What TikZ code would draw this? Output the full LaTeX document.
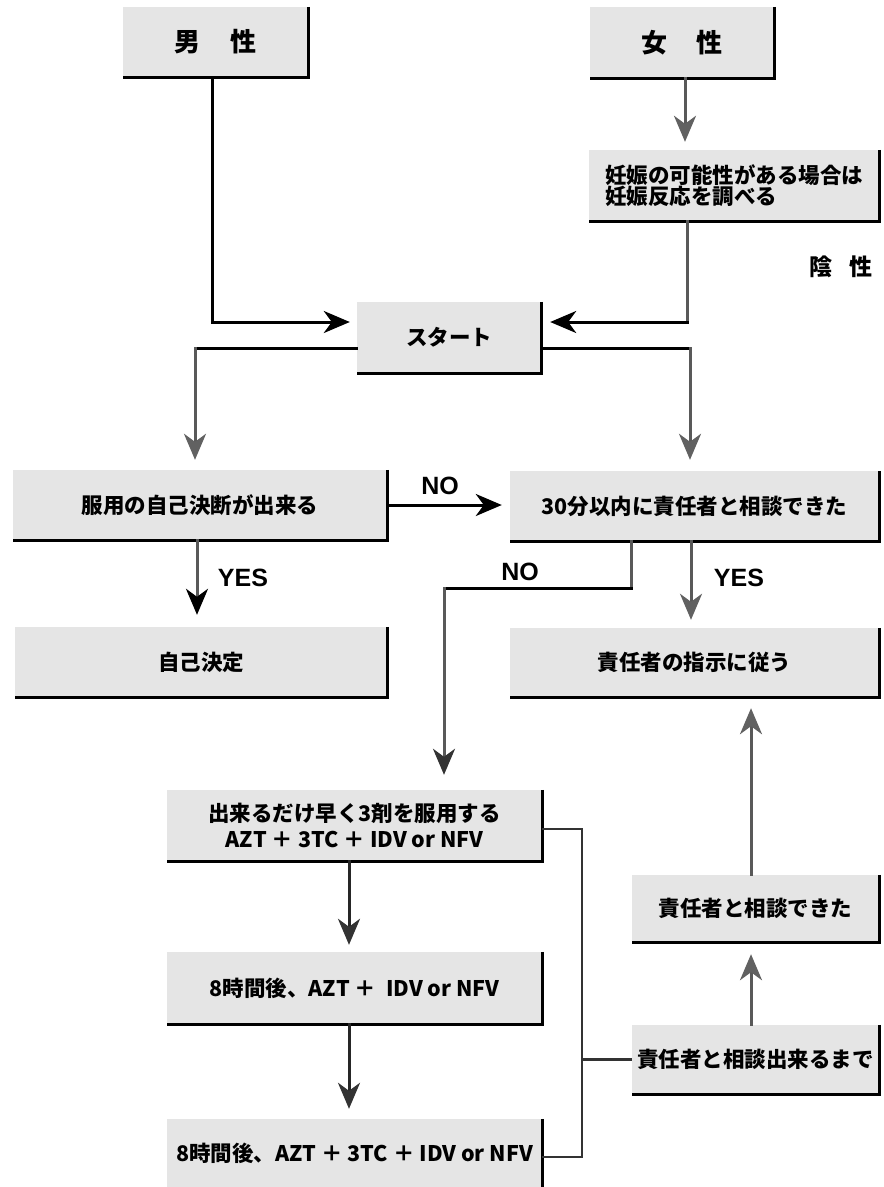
\documentclass[tikz,border=0pt]{standalone}
\usepackage{fontspec}
\setmainfont{Noto Sans CJK JP}
\newfontfamily\lat{Liberation Sans}
\usetikzlibrary{arrows.meta,calc}
\begin{document}
\begin{tikzpicture}[x=1pt,y=-1pt,
  box/.style={fill=black!10, inner sep=0pt, align=center,
    font=\bfseries\fontsize{21.5}{26}\selectfont},
  solidln/.style={line width=3pt, black, line cap=rect},
  dotln/.style={line width=3pt, black!65, line cap=rect},
  darkln/.style={line width=3pt, black!85, line cap=rect},
  bracketln/.style={line width=2.2pt, black!80},
  tipb/.style={-{Stealth[length=26pt,width=22pt,inset=8pt,color=black]}},
  tipg/.style={-{Stealth[length=26pt,width=22pt,inset=8pt,color=black!62]}},
  tipd/.style={-{Stealth[length=26pt,width=22pt,inset=8pt,color=black!80]}},
  lbl/.style={font=\lat\bfseries\fontsize{25}{30}\selectfont, inner sep=0pt},
  border/.style={line width=3pt, black}
]
\useasboundingbox (0,0) rectangle (884,1187);

% boxes
\node[box, minimum width=185pt, minimum height=70pt] (male) at (215.5,42)
  {\fontsize{26}{30}\selectfont 男\hspace{30pt}性};
\node[box, minimum width=184pt, minimum height=71pt] (female) at (682,42.5)
  {\fontsize{26}{30}\selectfont 女\hspace{30pt}性};
\node[box, minimum width=290pt, minimum height=71pt, align=left,
  font=\bfseries\fontsize{21.5}{21.5}\selectfont] (preg) at (734,185.5)
  {妊娠の可能性がある場合は\\妊娠反応を調べる};
\node[box, minimum width=184pt, minimum height=71pt] (start) at (449,337.5) {スタート};
\node[box, minimum width=374pt, minimum height=70pt] (decide) at (200,505) {服用の自己決断が出来る};
\node[box, minimum width=369pt, minimum height=70pt] (consult30) at (694.5,506) {30分以内に責任者と相談できた};
\node[box, minimum width=372pt, minimum height=70pt] (self) at (201,662) {自己決定};
\node[box, minimum width=369pt, minimum height=69pt] (follow) at (694.5,662.5) {責任者の指示に従う};
\node[box, minimum width=375pt, minimum height=71pt] (take3) at (354.5,825.5)
  {出来るだけ早く3剤を服用する\\AZT ＋ 3TC ＋ IDV or NFV};
\node[box, minimum width=375pt, minimum height=72pt] (h8a) at (354.5,988) {8時間後、AZT ＋\ \ IDV or NFV};
\node[box, minimum width=375pt, minimum height=68pt] (h8b) at (354.5,1153)
  {\raisebox{-4pt}{8時間後、AZT ＋ 3TC ＋ IDV or NFV}};
\node[box, minimum width=247pt, minimum height=67pt] (consulted) at (755.5,908.5) {責任者と相談できた};
\node[box, minimum width=247pt, minimum height=69pt] (until) at (755.5,1059.5) {責任者と相談出来るまで};

\node[font=\bfseries\fontsize{23}{27}\selectfont, inner sep=0pt] (neg) at (841,267) {陰\hspace{18pt}性};

% right and bottom borders
\foreach \n in {male,female,preg,start,decide,consult30,self,follow,take3,h8a,consulted,until}
  \draw[border] (\n.north east) -- (\n.south east) -- (\n.south west);
\draw[border] (h8b.north east) -- (h8b.south east);

% male -> start
\coordinate (ms) at ($(start.west)+(-7,-15.5)$);
\draw[solidln, tipb] ($(male.south)+(-3.5,0)$) |- (ms);

% female -> preg
\coordinate (fp) at ($(preg.north)+(-49,-8)$);
\draw[dotln, tipg] (female.south -| fp) -- (fp);

% preg -> start
\coordinate (ps) at ($(start.east)+(9,-15.5)$);
\coordinate (pb) at ($(preg.south)+(-47,0)$);
\draw[dotln] (pb) -- (pb |- ps);
\draw[solidln, tipb] (pb |- ps) -- (ps);

% start -> decide
\coordinate (sl) at ($(start.west)+(0,10.5)$);
\coordinate (sd) at ($(decide.north)+(-5,-10)$);
\draw[solidln] (sl) -- (sl -| sd);
\draw[dotln, tipg] (sl -| sd) -- (sd);

% start -> consult30
\coordinate (sr) at ($(start.east)+(0,10.5)$);
\coordinate (sc) at ($(consult30.north)+(-4.5,-11)$);
\draw[solidln] (sr) -- (sr -| sc);
\draw[dotln, tipg] (sr -| sc) -- (sc);

% decide -> consult30 (NO)
\coordinate (nw) at ($(consult30.west)+(-8,0)$);
\draw[solidln, tipb] (decide.east) -- (decide.east -| nw);
\node[lbl] (no1) at (440,486) {NO};

% decide -> self (YES)
\coordinate (ys) at ($(self.north)+(-4,-12)$);
\draw[dotln, tipb] (decide.south -| ys) -- (ys);
\node[lbl] (yes1) at (243,578) {YES};

% consult30 -> follow (YES)
\coordinate (yf) at ($(follow.north)+(-3.5,-8)$);
\draw[dotln, tipg] (consult30.south -| yf) -- (yf);
\node[lbl] (yes2) at (739,578) {YES};

% consult30 -> take3 (NO)
\coordinate (n1) at ($(consult30.south west)+(122,0)$);
\coordinate (n2) at ($(n1)+(0,47)$);
\coordinate (nt) at ($(take3.north)+(89.5,-15)$);
\draw[dotln] (n1) -- (n2);
\draw[solidln] (n2) -- (n2 -| nt);
\draw[dotln, tipd] (n2 -| nt) -- (nt);
\node[lbl] (no2) at (520,572) {NO};

% take3 -> h8a -> h8b
\coordinate (t1) at ($(take3.south)+(-5.5,0)$);
\draw[darkln, tipd, shorten >=7pt] (t1) -- (t1 |- h8a.north);
\coordinate (t2) at ($(h8a.south)+(-5.5,0)$);
\draw[darkln, tipd, shorten >=10pt] (t2) -- (t2 |- h8b.north);

% consulted -> follow, until -> consulted
\coordinate (cf) at ($(consulted.north)+(-4.5,0)$);
\draw[dotln, tipg, shorten >=11pt] (cf) -- (cf |- follow.south);
\coordinate (uc) at ($(until.north)+(-4.5,0)$);
\draw[dotln, tipg, shorten >=12pt] (uc) -- (uc |- consulted.south);

% bracket
\coordinate (bs) at ($(take3.east)+(0,3.5)$);
\coordinate (bx) at ($(take3.east)+(40,3.5)$);
\coordinate (be) at ($(h8b.east)+(0,4)$);
\draw[bracketln] (bs) -- (bx) -- (bx |- be) -- (be);
\draw[bracketln] (bx |- until.west) -- (until.west);
\end{tikzpicture}
\end{document}
